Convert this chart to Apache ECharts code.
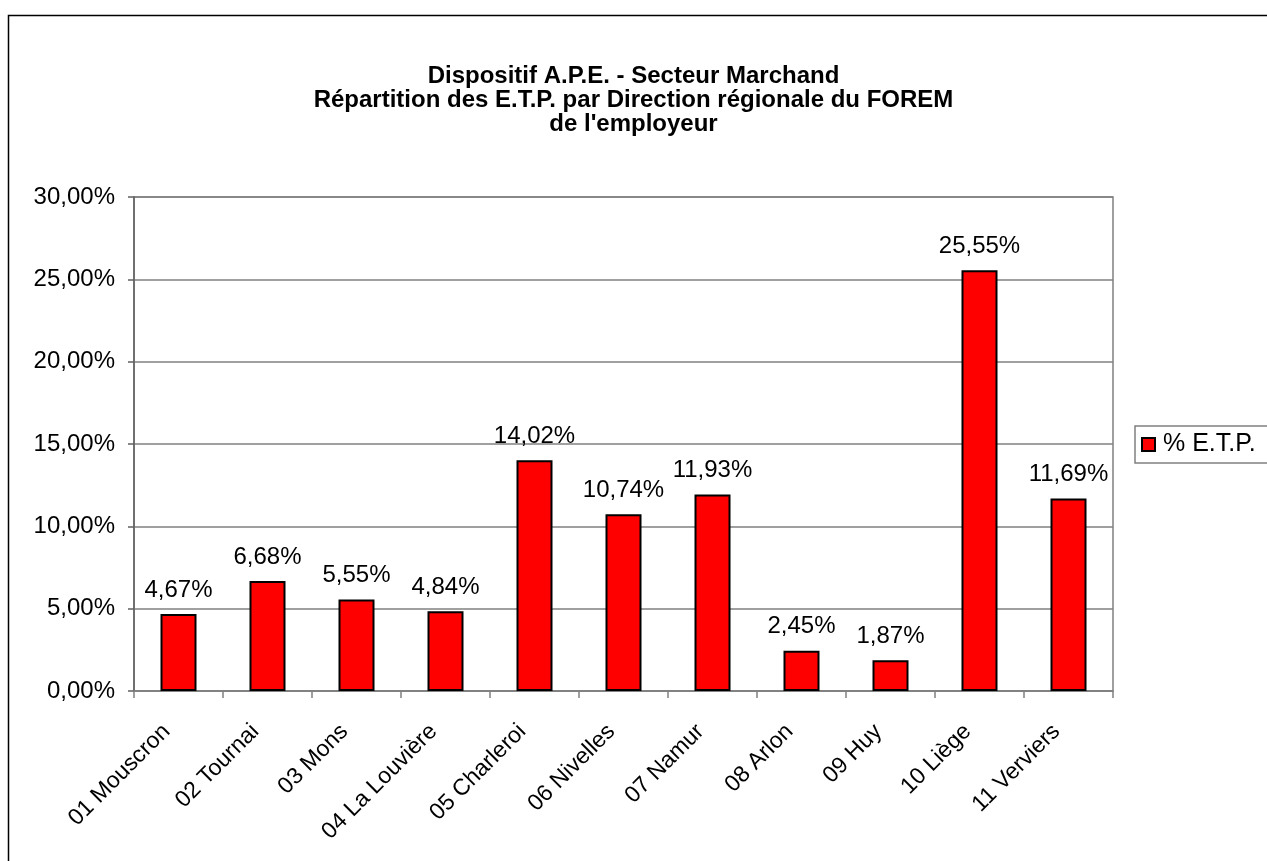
<!DOCTYPE html>
<html>
<head>
<meta charset="utf-8">
<script src="https://cdn.jsdelivr.net/npm/echarts@6/dist/echarts.min.js"></script>
<style>
    html, body { margin: 0; padding: 0; background: #fff; }
    #chart { width: 1267px; height: 861px; }
</style>
</head>
<body>
<div id="chart"></div>
<script>
var titleLines = [
    'Dispositif A.P.E. - Secteur Marchand',
    'Répartition des E.T.P. par Direction régionale du FOREM',
    "de l'employeur"
];
var seriesName = '% E.T.P.';
var categories = ['01 Mouscron', '02 Tournai', '03 Mons', '04 La Louvière', '05 Charleroi',
    '06 Nivelles', '07 Namur', '08 Arlon', '09 Huy', '10 Liège', '11 Verviers'];
var etpValues = [4.67, 6.68, 5.55, 4.84, 14.02, 10.74, 11.93, 2.45, 1.87, 25.55, 11.69];
var yTicks = { min: 0, max: 30, interval: 5 };

var font = '"Liberation Sans", Arial, sans-serif';

function pct(v) {
    return v.toFixed(2).replace('.', ',') + '%';
}

var chart = echarts.init(document.getElementById('chart'));

var option = {
    backgroundColor: '#fff',
    animation: false,
    textStyle: { fontFamily: font, color: '#000' },
    title: {
        text: titleLines.join('\n'),
        left: 'center',
        top: 59,
        textStyle: { fontFamily: font, fontSize: 24, fontWeight: 'bold', color: '#000', lineHeight: 24 }
    },
    legend: {
        data: [{ name: seriesName, icon: 'rect' }],
        left: 1135,
        top: 426,
        orient: 'vertical',
        borderColor: '#808080',
        borderWidth: 1.5,
        padding: [6, 40, 6, 6],
        itemWidth: 13,
        itemHeight: 13,
        itemGap: 4,
        textStyle: { fontFamily: font, fontSize: 25, color: '#000', padding: [0, 0, 0, 3] }
    },
    graphic: [{
        type: 'rect',
        shape: { x: 8.5, y: 15.5, width: 1400, height: 1000 },
        style: { fill: null, stroke: '#000', lineWidth: 1.5 },
        silent: true,
        z: -1
    }],
    grid: {
        left: 134,
        right: 154,
        top: 197,
        bottom: 170,
        show: true,
        borderColor: '#808080',
        borderWidth: 1.5
    },
    xAxis: {
        type: 'category',
        data: categories,
        axisLine: { lineStyle: { color: '#808080', width: 1.5 } },
        axisTick: { show: true, alignWithLabel: false, length: 7, lineStyle: { color: '#808080', width: 1.5 } },
        axisLabel: {
            rotate: 45, margin: 25, fontSize: 23, color: '#000', fontFamily: font, interval: 0,
            padding: [0, 17, 0, 0]
        }
    },
    yAxis: {
        type: 'value',
        min: yTicks.min,
        max: yTicks.max,
        interval: yTicks.interval,
        axisLine: { show: true, lineStyle: { color: '#606060', width: 1.5 } },
        axisTick: { show: true, length: 6, lineStyle: { color: '#606060', width: 1.5 } },
        splitLine: { lineStyle: { color: '#808080', width: 1.5 } },
        axisLabel: { fontSize: 24, color: '#000', fontFamily: font, margin: 19, formatter: pct }
    },
    series: [{
        name: seriesName,
        type: 'bar',
        data: etpValues,
        barWidth: 36,
        itemStyle: { color: '#ff0000', borderColor: '#000', borderWidth: 2 },
        label: {
            show: true,
            position: 'top',
            distance: 12,
            fontSize: 24,
            color: '#000',
            fontFamily: font,
            formatter: function (p) { return pct(p.value); }
        }
    }]
};

chart.setOption(option);
</script>
</body>
</html>
